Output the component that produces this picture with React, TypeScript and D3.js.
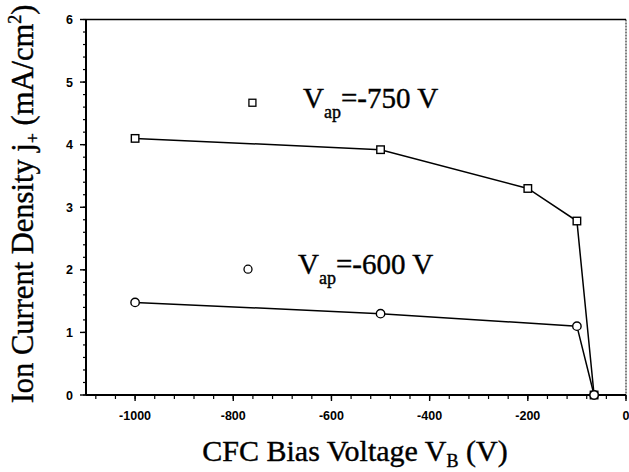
import React from "react";
import * as d3 from "d3";

const biasVap750 = [-1000, -500, -200, -100, -65];
const jVap750 = [4.1, 3.92, 3.3, 2.78, 0];
const biasVap600 = [-1000, -500, -100, -65];
const jVap600 = [1.48, 1.3, 1.1, 0];
const xTickValues = [-1000, -800, -600, -400, -200, 0];
const yTickValues = [0, 1, 2, 3, 4, 5, 6];

const W = 629, H = 472;
const x = d3.scaleLinear().domain([-1100, 0]).range([86, 626]);
const y = d3.scaleLinear().domain([0, 6]).range([395, 19.5]);
const serif = "Liberation Serif, Times New Roman, serif";
const sans = "Liberation Sans, Arial, sans-serif";

export default function App() {
  const line = d3.line<[number, number]>().x(d => x(d[0])).y(d => y(d[1]));
  const s750: [number, number][] = biasVap750.map((b, i) => [b, jVap750[i]]);
  const s600: [number, number][] = biasVap600.map((b, i) => [b, jVap600[i]]);
  const xMinor = d3.range(-1080, 0.1, 40);
  const yMinor = d3.range(0, 6.001, 0.2);
  const sq = 7.5;
  return (
    <svg width={W} height={H} style={{ position: "absolute", left: 0, top: 0, background: "#fff" }}>
      <rect x={0} y={0} width={W} height={H} fill="#fff" />
      {/* frame */}
      <line x1={x(-1100)} x2={x(0)} y1={y(6)} y2={y(6)} stroke="#000" strokeWidth={1.6} />
      <line x1={x(0)} x2={x(0)} y1={y(6)} y2={y(0)} stroke="#000" strokeWidth={1} strokeDasharray="2,1" />
      <line x1={x(-1100)} x2={x(0)} y1={y(0)} y2={y(0)} stroke="#000" strokeWidth={2} />
      <line x1={x(-1100)} x2={x(-1100)} y1={y(6)} y2={y(0)} stroke="#000" strokeWidth={2} />
      {/* x ticks */}
      {xMinor.map(v => (
        <line key={"xm" + v} x1={x(v)} x2={x(v)} y1={y(0)} y2={y(0) + 4} stroke="#000" strokeWidth={1.2} />
      ))}
      {xTickValues.map(v => (
        <g key={"xt" + v}>
          <line x1={x(v)} x2={x(v)} y1={y(0)} y2={y(0) + 6} stroke="#000" strokeWidth={1.4} />
          <text x={x(v)} y={y(0) + 25} textAnchor="middle" fontFamily={sans} fontWeight="bold" fontSize={12.5} fill="#000">{v}</text>
        </g>
      ))}
      {/* y ticks */}
      {yMinor.map(v => (
        <line key={"ym" + v} x1={x(-1100)} x2={x(-1100) - 3} y1={y(v)} y2={y(v)} stroke="#000" strokeWidth={1.2} />
      ))}
      {yTickValues.map(v => (
        <g key={"yt" + v}>
          <line x1={x(-1100)} x2={x(-1100) - 6} y1={y(v)} y2={y(v)} stroke="#000" strokeWidth={1.4} />
          <text x={73} y={y(v) + 4.5} textAnchor="end" fontFamily={sans} fontWeight="bold" fontSize={12.5} fill="#000">{v}</text>
        </g>
      ))}
      {/* series lines */}
      <path d={line(s750) || ""} fill="none" stroke="#000" strokeWidth={1.5} />
      <path d={line(s600) || ""} fill="none" stroke="#000" strokeWidth={1.5} />
      {s750.map((d, i) => (
        <rect key={"s" + i} x={x(d[0]) - sq / 2} y={y(d[1]) - sq / 2} width={sq} height={sq} fill="#fff" stroke="#000" strokeWidth={1.4} />
      ))}
      {s600.map((d, i) => (
        <circle key={"c" + i} cx={x(d[0])} cy={y(d[1])} r={4.2} fill="#fff" stroke="#000" strokeWidth={1.4} />
      ))}
      {/* legends */}
      <rect x={x(-761) - 3.5} y={y(4.67) - 3.5} width={7} height={7} fill="#fff" stroke="#000" strokeWidth={1.3} />
      <text x={303} y={108} fontFamily={serif} fontSize={29} fill="#000" stroke="#000" strokeWidth={0.4}>
        V<tspan fontSize={18} dy={10}>ap</tspan><tspan dy={-10}>=-750 V</tspan>
      </text>
      <circle cx={x(-770)} cy={y(2.01)} r={4} fill="#fff" stroke="#000" strokeWidth={1.3} />
      <text x={298} y={274} fontFamily={serif} fontSize={29} fill="#000" stroke="#000" strokeWidth={0.4}>
        V<tspan fontSize={18} dy={10}>ap</tspan><tspan dy={-10}>=-600 V</tspan>
      </text>
      {/* axis titles */}
      <text x={355} y={461} textAnchor="middle" fontFamily={serif} fontSize={30} fill="#000" stroke="#000" strokeWidth={0.4}>
        CFC Bias Voltage V<tspan fontSize={18} dy={6}>B</tspan><tspan dy={-6}> (V)</tspan>
      </text>
      <text transform="translate(33,204) rotate(-90)" textAnchor="middle" fontFamily={serif} fontSize={30.5} fill="#000" stroke="#000" strokeWidth={0.4}>
        Ion Current Density j<tspan fontSize={18} dy={6}>+</tspan><tspan dy={-6}> (mA/cm</tspan><tspan fontSize={18} dy={-12}>2</tspan><tspan dy={12}>)</tspan>
      </text>
    </svg>
  );
}
